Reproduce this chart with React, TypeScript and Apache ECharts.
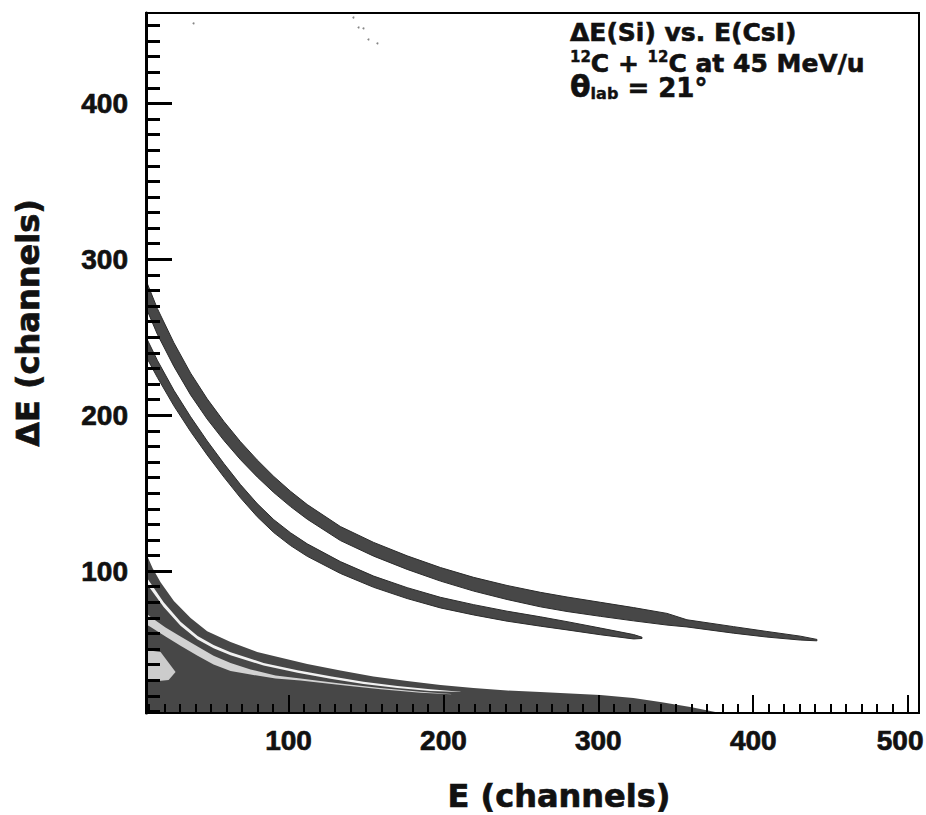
import React, { useEffect, useRef } from "react";
import * as echarts from "echarts";

// ---- axes ----
const xRange = [8, 507];
const yRange = [9, 458];
const xMajorTicks = [100, 200, 300, 400, 500];
const yMajorTicks = [100, 200, 300, 400];
const xMinorTicks = Array.from({ length: 50 }, (_, i) => (i + 1) * 10);
const yMinorTicks = Array.from({ length: 45 }, (_, i) => (i + 1) * 10);

// ---- band A (upper hyperbola) : [E, dE] edges ----
const bandAUpper = [[8,286.5],[15.3,268.5],[26,246.5],[36.8,227],[47.5,210.5],[58.3,196],[69,183],[79.8,171.3],[90.5,160.7],[101.3,151.2],[112.1,142.7],[133.5,128.6],[155,118.4],[176.6,109.8],[198.1,102.3],[219.5,96],[241.1,90.8],[262.6,86.4],[279.8,83.4],[301.3,80],[322.8,76.6],[344.3,72.9],[357.2,68.8],[387.3,64.4],[408.8,61.3],[430.3,58.3],[441.1,56.2]];
const bandALower = [[8,269],[15.3,252],[26,231.3],[36.8,213],[47.5,197.5],[58.3,183.8],[69,171.5],[79.8,160.4],[90.5,150.4],[101.3,141.4],[112.1,133.3],[133.5,119.6],[155,109.6],[176.6,101.1],[198.1,93.6],[219.5,87.2],[241.1,81.8],[262.6,77.1],[279.8,74.1],[301.3,71],[322.8,68.1],[344.3,65.4],[357.2,64.2],[387.3,60.2],[408.8,57.7],[430.3,55.8],[441.1,55.3]];

// ---- band B ----
const bandBUpper = [[8,250.2],[15.3,235.3],[26,216],[36.8,199],[47.5,183.5],[58.3,169],[69,155.5],[79.8,143.3],[90.5,133],[101.3,124.6],[112.1,117.5],[133.5,106.1],[155,96.8],[176.6,89.4],[198.1,83.2],[219.5,78.5],[241.1,74.3],[262.6,70.7],[279.8,67.6],[301.3,63.5],[322.8,59.3],[328.2,57.6]];
const bandBLower = [[8,237.7],[15.3,224.3],[26,206],[36.8,189.5],[47.5,174.5],[58.3,160.3],[69,147],[79.8,134.9],[90.5,124.7],[101.3,116.4],[112.1,109.5],[133.5,98.5],[155,89.6],[176.6,82.4],[198.1,76.4],[219.5,71.9],[241.1,67.9],[262.6,64.7],[279.8,62.3],[301.3,59.2],[322.8,56.5],[328.2,56.8]];

// ---- light-ion region (envelope top edge, floor) ----
const lightIonTop = [[8,111.5],[12.3,101.9],[17.4,92.9],[26,80.8],[36.8,69.9],[47.5,61.5],[62.6,54.5],[79.8,48.1],[90.5,45.5],[112.1,40.4],[133.5,36.2],[154.8,32.4],[176.6,29.5],[198.1,26.9],[219.4,25],[241.1,23.4],[262.6,22.4],[301.3,20.5],[322.6,18.6],[340,16],[359.4,12.8],[372.3,10.3],[378.7,9]];
const lightIonFloor = [[8,9]];

// ---- white gap inside light-ion region ----
const gapUpper = [[8,96.5],[19.4,80],[30.3,67.5],[41.3,58.4],[51.6,52.6],[62.6,48],[83.9,41.1],[105.8,36.4],[127.1,32.5],[148.4,29],[170.3,26.3],[191.6,24.2],[211,22.7]];
const gapLower = [[8,92.5],[19.4,77],[30.3,65],[41.3,56.2],[51.6,50.6],[62.6,46.1],[83.9,39.4],[105.8,34.8],[127.1,31],[148.4,27.6],[170.3,25],[191.6,23.1],[211,22.4]];

// ---- speckled light strip ----
const stripUpper = [[8,73],[11,70.5],[20.6,63.8],[30.3,58],[41.3,51.6],[51.6,45.8],[62.6,41],[75.5,36.9],[91.6,33],[107.7,31.1],[133.5,28],[159.4,25],[185.2,22.6],[205,21.2]];
const stripLower = [[8,66],[11,64.1],[20.6,58],[30.3,52.2],[41.3,45.8],[51.6,40.1],[62.6,35.9],[75.5,33.7],[91.6,31.1],[107.7,29.8],[133.5,27],[159.4,24.2],[185.2,22],[205,21]];

// ---- light patch at low E ----
const lightPatch = [[8,49.4],[17.4,48.1],[27.1,35.3],[22.6,30.1],[8,28.8]];

// ---- stray counts near top ----
const strayCounts = [[38.7,451.3],[141.9,455.1],[145.2,448.7],[148.4,448.1],[151.6,441],[157.4,438.5]];

const FONT_LBL = "Liberation Sans";
const FONT_TXT = "DejaVu Sans";
const INK = "#111";

function polygonSeries(name: string, pts: number[][], fill: string, stroke: string | null, z: number) {
  return {
    type: "custom",
    name,
    coordinateSystem: "cartesian2d",
    xAxisIndex: 0,
    yAxisIndex: 0,
    data: pts,
    encode: { x: 0, y: 1 },
    silent: true,
    z,
    renderItem: (params: any, api: any) => {
      if (params.dataIndex !== 0) return null;
      const points = pts.map((p) => api.coord(p));
      return {
        type: "polygon",
        shape: { points },
        style: { fill, stroke: stroke || "none", lineWidth: stroke ? 1 : 0 },
      };
    },
  };
}

const close = (up: number[][], lo: number[][]) => [...up, ...lo.slice().reverse()];

const BAND = "#474747";
const EDGE = "#2b2b2b";

const tok = (fontSize: number, lineHeight: number, extra: any = {}) => ({
  fontSize, lineHeight, fontWeight: "bold", fontFamily: FONT_TXT,
  fill: INK, stroke: INK, lineWidth: 0.6, ...extra,
});

export default function App() {
  const ref = useRef<HTMLDivElement>(null);
  useEffect(() => {
    const chart = echarts.init(ref.current!, null, { renderer: "svg" });
    const gridRect = { left: 146, top: 13, right: 7, bottom: 102 };
    const labelStyle = {
      color: INK, fontSize: 28, fontWeight: "bold", fontFamily: FONT_LBL,
      textBorderColor: INK, textBorderWidth: 0.7,
    };
    const option: any = {
      animation: false,
      backgroundColor: "#ffffff",
      grid: [
        { ...gridRect, show: true, borderColor: "#000", borderWidth: 2, backgroundColor: "transparent", outerBoundsMode: "none" },
        { ...gridRect, show: false, outerBoundsMode: "none" },
      ],
      xAxis: [
        {
          type: "value", gridIndex: 0, min: xRange[0], max: xRange[1], position: "bottom", z: 10,
          axisLine: { show: true, onZero: false, lineStyle: { color: "#000", width: 2 } },
          axisTick: { show: true, inside: true, length: 18, customValues: xMajorTicks, lineStyle: { color: "#000", width: 2 } },
          splitLine: { show: false },
          axisLabel: {
            customValues: xMajorTicks, margin: 13, ...labelStyle,
            formatter: (v: number) => (v === 500 ? "{last|500}" : String(v)),
            rich: { last: { padding: [0, 16, 0, 0], ...labelStyle } },
          },
        },
        {
          type: "value", gridIndex: 1, min: xRange[0], max: xRange[1], position: "bottom", z: 10,
          axisLine: { show: false, onZero: false },
          axisTick: { show: true, inside: true, length: 9, customValues: xMinorTicks, lineStyle: { color: "#000", width: 2 } },
          splitLine: { show: false },
          axisLabel: { show: false },
        },
      ],
      yAxis: [
        {
          type: "value", gridIndex: 0, min: yRange[0], max: yRange[1], position: "left", z: 10,
          axisLine: { show: true, onZero: false, lineStyle: { color: "#000", width: 3 } },
          axisTick: { show: true, inside: true, length: 26, customValues: yMajorTicks, lineStyle: { color: "#000", width: 3 } },
          splitLine: { show: false },
          axisLabel: { customValues: yMajorTicks, margin: 18, ...labelStyle },
        },
        {
          type: "value", gridIndex: 1, min: yRange[0], max: yRange[1], position: "left", z: 10,
          axisLine: { show: false, onZero: false },
          axisTick: { show: true, inside: true, length: 14, customValues: yMinorTicks, lineStyle: { color: "#000", width: 3 } },
          splitLine: { show: false },
          axisLabel: { show: false },
        },
      ],
      series: [
        polygonSeries("light ions", [...lightIonTop, ...lightIonFloor], BAND, null, 2),
        polygonSeries("gap", close(gapUpper, gapLower), "#f2f2f2", null, 3),
        polygonSeries("strip", close(stripUpper, stripLower), "#d2d2d2", null, 3),
        polygonSeries("patch", lightPatch, "#cccccc", null, 3),
        polygonSeries("band A", close(bandAUpper, bandALower), BAND, EDGE, 2),
        polygonSeries("band B", close(bandBUpper, bandBLower), BAND, EDGE, 2),
        {
          type: "scatter", xAxisIndex: 0, yAxisIndex: 0, data: strayCounts, symbolSize: 2,
          itemStyle: { color: "#666" }, silent: true, z: 2,
        },
      ],
      graphic: {
        elements: [
          {
            type: "text", x: 570, y: 18, z: 20,
            style: {
              text: "{m|ΔE(Si) vs. E(CsI)}",
              rich: { m: tok(25, 28) },
              align: "left", verticalAlign: "top",
            },
          },
          {
            type: "text", x: 570, y: 49, z: 20,
            style: {
              text: "{s|12}{m|C + }{s|12}{m|C at 45 MeV/u}",
              rich: { m: tok(25, 28), s: tok(15, 20, { verticalAlign: "top", lineWidth: 0.4 }) },
              align: "left", verticalAlign: "top",
            },
          },
          {
            type: "text", x: 570, y: 67, z: 20,
            style: {
              text: "{t|θ}{b|lab}{m| = 21°}",
              rich: {
                t: tok(30, 34, { verticalAlign: "bottom" }),
                b: tok(16, 25.6, { verticalAlign: "bottom", lineWidth: 0.4 }),
                m: tok(26, 31.6, { verticalAlign: "bottom" }),
              },
              align: "left", verticalAlign: "top",
            },
          },
          {
            type: "text", x: 559, y: 796, z: 20,
            style: {
              text: "E (channels)", fontSize: 32, fontWeight: "bold", fontFamily: FONT_TXT, fill: INK,
              stroke: INK, lineWidth: 0.7,
              align: "center", verticalAlign: "middle",
            },
          },
          {
            type: "text", x: 28, y: 323, rotation: Math.PI / 2, z: 20,
            style: {
              text: "ΔE (channels)", fontSize: 32, fontWeight: "bold", fontFamily: FONT_TXT, fill: INK,
              stroke: INK, lineWidth: 0.7,
              align: "center", verticalAlign: "middle",
            },
          },
        ],
      },
    };
    chart.setOption(option);
    return () => chart.dispose();
  }, []);
  return <div ref={ref} style={{ position: "fixed", left: 0, top: 0, width: 926, height: 815 }} />;
}
